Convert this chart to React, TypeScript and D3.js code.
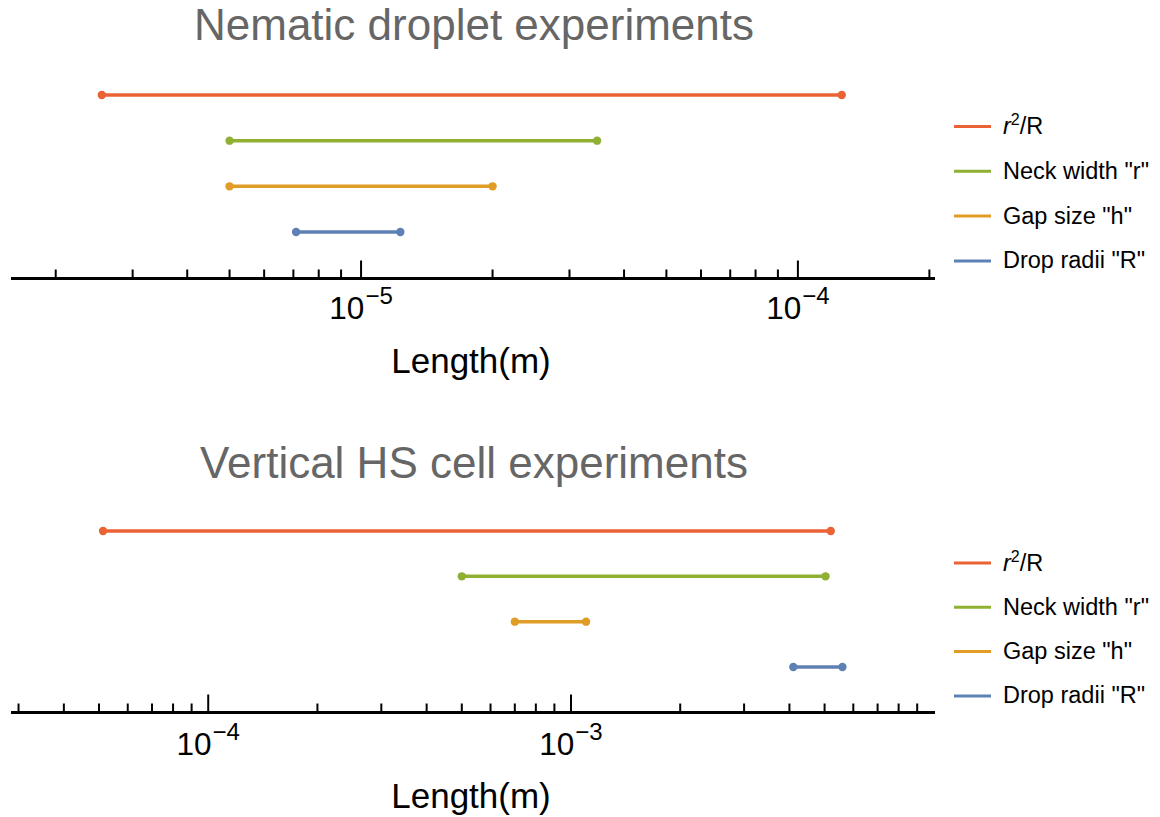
import React from 'react';
import * as d3 from 'd3';

const seriesNames = ['r2/R', 'Neck width "r"', 'Gap size "h"', 'Drop radii "R"'];
const colors = ['#EB6235', '#8FB032', '#E09C24', '#5E81B5'];

const nematicLow = [2.55e-6, 5.0e-6, 5.0e-6, 7.1e-6];
const nematicHigh = [1.26e-4, 3.47e-5, 2.0e-5, 1.23e-5];
const nematicDomain = [1.58e-6, 2.06e-4];

const hsLow = [5.13e-5, 5.0e-4, 7.0e-4, 4.1e-3];
const hsHigh = [5.2e-3, 5.03e-3, 1.1e-3, 5.6e-3];
const hsDomain = [2.86e-5, 9.95e-3];

const titles = ['Nematic droplet experiments', 'Vertical HS cell experiments'];
const axisLabel = 'Length(m)';

const FONT = '"Liberation Sans", Arial, Helvetica, sans-serif';

function tickValues(domain: number[]) {
  const out: { v: number; major: boolean; exp: number }[] = [];
  const e0 = Math.floor(Math.log10(domain[0]));
  const e1 = Math.ceil(Math.log10(domain[1]));
  for (let e = e0; e <= e1; e++) {
    for (let k = 1; k <= 9; k++) {
      const v = k * Math.pow(10, e);
      if (v >= domain[0] && v <= domain[1]) out.push({ v, major: k === 1, exp: e });
    }
  }
  return out;
}

type PanelProps = {
  title: string;
  low: number[];
  high: number[];
  domain: number[];
  rangeR: number;
  titleY: number;
  rowY0: number;
  rowY1: number;
  axisY: number;
  tickLabelDy: number;
  axisLabelY: number;
  legendY0: number;
  legendStep: number;
};

function Panel(p: PanelProps) {
  const x = d3.scaleLog().domain(p.domain).range([11, p.rangeR]);
  const y = d3.scalePoint<number>().domain(d3.range(seriesNames.length)).range([p.rowY0, p.rowY1]);
  const ticks = tickValues(p.domain);
  return (
    <g>
      <text x={474} y={p.titleY} textAnchor="middle" fontSize={44} fill="#666666" fontFamily={FONT}>
        {p.title}
      </text>
      {seriesNames.map((_, i) => (
        <g key={i}>
          <line x1={x(p.low[i])} x2={x(p.high[i])} y1={y(i)} y2={y(i)} stroke={colors[i]} strokeWidth={3.5} />
          <circle cx={x(p.low[i])} cy={y(i)} r={4.2} fill={colors[i]} />
          <circle cx={x(p.high[i])} cy={y(i)} r={4.2} fill={colors[i]} />
        </g>
      ))}
      <line x1={11} x2={935} y1={p.axisY} y2={p.axisY} stroke="#000" strokeWidth={3} />
      {ticks.map((t, i) => (
        <line key={i} x1={x(t.v)} x2={x(t.v)} y1={p.axisY} y2={p.axisY - (t.major ? 18 : 9)} stroke="#000" strokeWidth={2} />
      ))}
      {ticks.filter(t => t.major).map((t, i) => (
        <text key={i} x={x(t.v)} y={p.axisY + p.tickLabelDy} textAnchor="middle" fontSize={31.5} fontFamily={FONT} fill="#000">
          10
          <tspan fontSize={24} dy={-15} dx={1}>{'\u2212' + Math.abs(t.exp)}</tspan>
        </text>
      ))}
      <text x={471} y={p.axisLabelY} textAnchor="middle" fontSize={35} fontFamily={FONT} fill="#000">
        {axisLabel}
      </text>
      {seriesNames.map((name, i) => {
        const ly = p.legendY0 + i * p.legendStep;
        return (
          <g key={i}>
            <line x1={954} x2={991} y1={ly} y2={ly} stroke={colors[i]} strokeWidth={3} />
            <text x={1003} y={ly + 7.5} fontSize={23.5} fontFamily={FONT} fill="#000">
              {i === 0 ? (
                <>
                  <tspan fontStyle="italic">r</tspan>
                  <tspan fontSize={16} dy={-9}>2</tspan>
                  <tspan dy={9}>/R</tspan>
                </>
              ) : (
                name
              )}
            </text>
          </g>
        );
      })}
    </g>
  );
}

export default function App() {
  return (
    <svg width={1160} height={817} style={{ position: 'absolute', left: 0, top: 0, background: '#fff' }}>
      <rect width={1160} height={817} fill="#fff" />
      <Panel
        title={titles[0]}
        low={nematicLow}
        high={nematicHigh}
        domain={nematicDomain}
        rangeR={935}
        titleY={40}
        rowY0={95}
        rowY1={232}
        axisY={278.5}
        tickLabelDy={40}
        axisLabelY={373}
        legendY0={126.5}
        legendStep={44.8}
      />
      <Panel
        title={titles[1]}
        low={hsLow}
        high={hsHigh}
        domain={hsDomain}
        rangeR={933}
        titleY={478}
        rowY0={531}
        rowY1={667}
        axisY={712.5}
        tickLabelDy={42.5}
        axisLabelY={808}
        legendY0={563}
        legendStep={44.3}
      />
    </svg>
  );
}
